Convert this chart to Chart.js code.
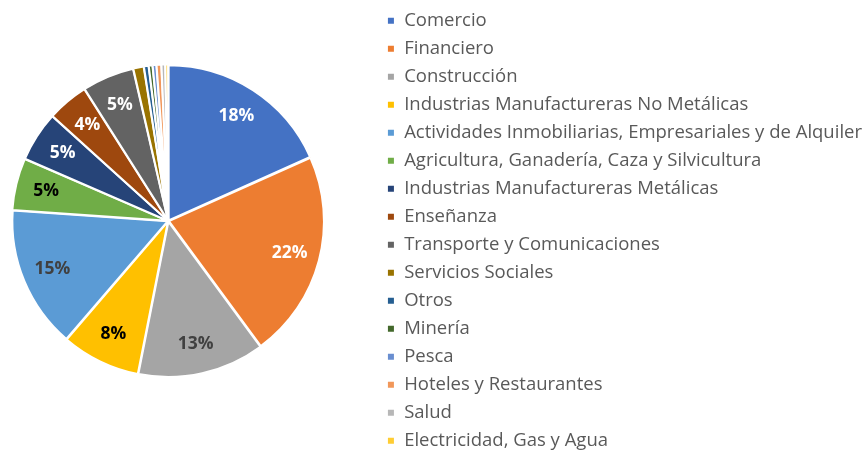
<!DOCTYPE html>
<html>
<head>
<meta charset="utf-8">
<script src="https://cdn.jsdelivr.net/npm/chart.js@4/dist/chart.umd.min.js"></script>
<style>
html,body{margin:0;padding:0;background:#fff;}
#wrap{width:867px;height:451px;position:relative;}
</style>
</head>
<body>
<div id="wrap"><canvas id="c" width="867" height="451"></canvas></div>
<script>
const categories = [
  "Comercio",
  "Financiero",
  "Construcción",
  "Industrias Manufactureras No Metálicas",
  "Actividades Inmobiliarias, Empresariales y de Alquiler",
  "Agricultura, Ganadería, Caza y Silvicultura",
  "Industrias Manufactureras Metálicas",
  "Enseñanza",
  "Transporte y Comunicaciones",
  "Servicios Sociales",
  "Otros",
  "Minería",
  "Pesca",
  "Hoteles y Restaurantes",
  "Salud",
  "Electricidad, Gas y Agua"
];
const shares = [18.3, 21.6, 13.2, 8.2, 14.8, 5.4, 5.2, 4.3, 5.4, 1.1, 0.5, 0.4, 0.4, 0.5, 0.4, 0.3];
const sliceColors = ["#4472C4","#ED7D31","#A5A5A5","#FFC000","#5B9BD5","#70AD47","#264478","#9E480E","#636363","#997300","#255E91","#43682B","#698ED0","#F1975A","#B7B7B7","#FFCD33"];
const labelColors = ["#FFFFFF","#FFFFFF","#404040","#000000","#404040","#000000","#FFFFFF","#FFFFFF","#FFFFFF","#000000","#FFFFFF","#FFFFFF","#000000","#000000","#000000","#000000"];

// layout tweak: leave a gap between pie box and legend, trim bottom
const pieArea = {
  id: 'pieArea',
  afterLayout(chart) {
    const a = chart.chartArea;
    a.right = chart.legend.left - 41;
    a.bottom = chart.height - 11;
    a.width = a.right - a.left;
    a.height = a.bottom - a.top;
  }
};

const pctLabels = {
  id: 'pctLabels',
  afterDatasetsDraw(chart) {
    const ctx = chart.ctx;
    const meta = chart.getDatasetMeta(0);
    const total = shares.reduce((a,b)=>a+b,0);
    ctx.save();
    ctx.font = 'bold 17.5px "Open Sans", Lato, sans-serif';
    ctx.textAlign = 'center';
    ctx.textBaseline = 'middle';
    meta.data.forEach((arc, i) => {
      const pct = shares[i] / total * 100;
      if (pct < 3) return;
      const p = arc.getProps(['x','y','startAngle','endAngle','outerRadius'], true);
      const mid = (p.startAngle + p.endAngle) / 2;
      const r = p.outerRadius * 0.81;
      ctx.fillStyle = labelColors[i];
      ctx.fillText(Math.round(pct) + '%', p.x + Math.cos(mid) * r, p.y + Math.sin(mid) * r);
    });
    ctx.restore();
  }
};

new Chart(document.getElementById('c'), {
  type: 'pie',
  data: {
    labels: categories,
    datasets: [{
      data: shares,
      backgroundColor: sliceColors,
      borderColor: '#FFFFFF',
      borderWidth: 2,
      offset: 3,
      radius: 155
    }]
  },
  options: {
    responsive: false,
    animation: false,
    layout: { padding: { left: 0, right: -5, top: 2, bottom: -12 } },
    plugins: {
      tooltip: { enabled: false },
      legend: {
        position: 'right',
        align: 'start',
        maxWidth: 520,
        labels: {
          color: '#595959',
          font: { family: '"Open Sans", Lato, sans-serif', size: 18.5 },
          boxWidth: 8,
          boxHeight: 8,
          padding: 9.5
        }
      }
    }
  },
  plugins: [pieArea, pctLabels]
});
</script>
</body>
</html>
